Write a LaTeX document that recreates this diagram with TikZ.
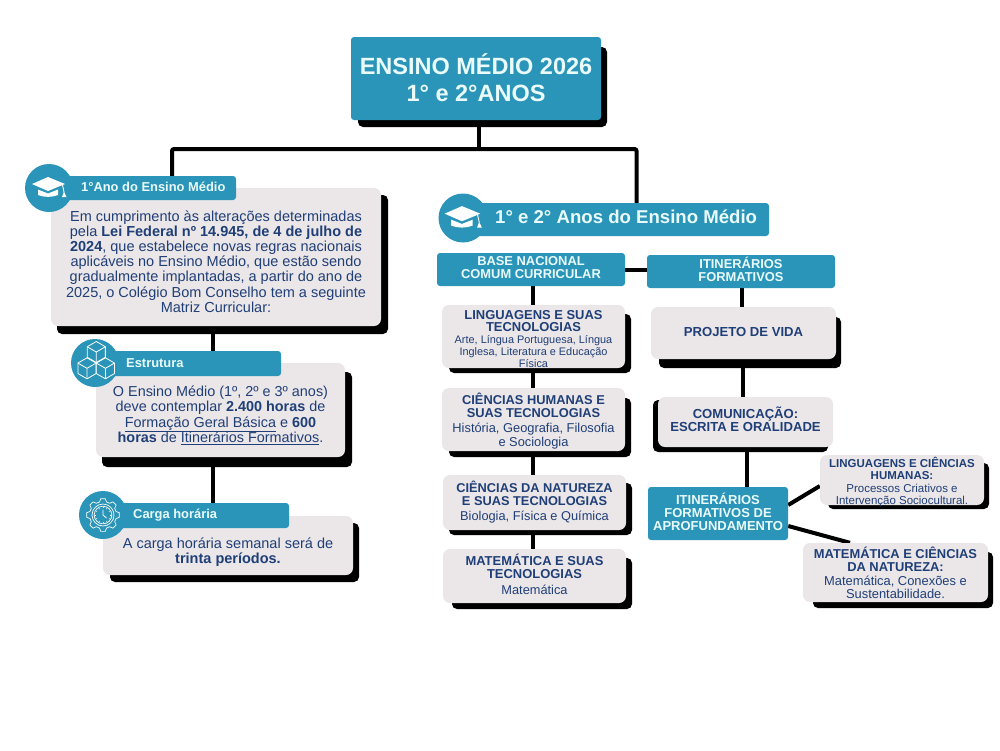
\documentclass[tikz,border=0pt]{standalone}
\usepackage{fontspec}
\setmainfont{Liberation Sans}
\usetikzlibrary{backgrounds}
\definecolor{teal1}{HTML}{2A95B8}
\definecolor{cardc}{HTML}{EBE6E7}
\definecolor{ink}{HTML}{1F3F78}
\definecolor{pale}{HTML}{EAFBFB}
\tikzset{
 shadowcard/.style={fill=black,rounded corners=5pt,inner sep=0pt},
 card/.style={fill=cardc,rounded corners=7pt,inner sep=0pt,text=ink},
 bluecard/.style={fill=teal1,rounded corners=3pt,inner sep=0pt,text=pale},
 bartext/.style={text=pale,inner sep=0pt,anchor=west},
 conn/.style={draw=black,line width=4pt},
 iconline/.style={draw=white,line width=0.8pt,line join=round},
 iconc/.style={fill=teal1,circle,inner sep=0pt,minimum size=48pt},
}
\newcommand\rbox[7]{% name style x1 y1 x2 y2 text
 \pgfmathsetmacro\cxx{(#3+#5)/2}\pgfmathsetmacro\cyy{-(#4+#6)/2}%
 \pgfmathsetmacro\ww{#5-#3}\pgfmathsetmacro\hh{#6-#4}%
 \node[#2,minimum width=\ww pt,minimum height=\hh pt] (#1) at (\cxx,\cyy) {#7};}
\newcommand\sz[2]{\fontsize{#1}{#2}\selectfont}
\newcommand\txt[2]{\raisebox{\dimexpr #1pt-0.25em\relax}[0pt][0pt]{\begin{tabular}{@{}c@{}}#2\end{tabular}}}
\newcommand\ulin[1]{$\underline{\hbox{#1}}$}
\newcommand\capicon[3]{\begin{scope}[shift={(#1,-#2)},scale=#3]
 \fill[white] (-17,4)--(-1,11)--(16,4)--(-1,-3)--cycle;
 \fill[white] (-11,-1.5)--(-1,-5.5)--(9,-1.5)--(9,-7) .. controls (3,-9.5) and (-5,-9.5) .. (-11,-7)--cycle;
 \draw[white,line width=0.9pt] (13.5,3)--(15,-4);
 \fill[white] (15,-3.5)--(13,-9)--(17.5,-9)--cycle;
\end{scope}}
\newcommand\cubeic[3]{\begin{scope}[shift={(#1,#2)}]
 \draw[iconline] (30:#3)--(90:#3)--(150:#3)--(210:#3)--(270:#3)--(330:#3)--cycle;
 \draw[iconline] (30:#3)--(0,0)--(150:#3) (0,0)--(270:#3);
\end{scope}}
\begin{document}
\begin{tikzpicture}[x=1pt,y=1pt]
\useasboundingbox (0,0) rectangle (1000,-750);
% ---- title
\rbox{titleS}{shadowcard}{358}{47}{607}{127}{}
\rbox{title}{bluecard,font=\bfseries\sz{23.5}{27}}{351}{37}{601}{120}{\txt{-3}{ENSINO MÉDIO 2026\\1° e 2°ANOS}}
% ---- left column
\rbox{introS}{shadowcard}{57}{195}{388}{334}{}
\rbox{intro}{card,font=\sz{14.5}{15.2}}{51}{188}{381}{326}{\txt{-6.6}{Em cumprimento às alterações determinadas\\pela \textbf{Lei Federal nº 14.945, de 4 de julho de}\\\textbf{2024}, que estabelece novas regras nacionais\\aplicáveis no Ensino Médio, que estão sendo\\gradualmente implantadas, a partir do ano de\\2025, o Colégio Bom Conselho tem a seguinte\\Matriz Curricular:}}
\rbox{barA}{bluecard}{62}{176}{236}{200}{}
\node[iconc] (icA) at (49,-188) {};
\node[bartext,font=\bfseries\sz{12.9}{14}] (barAt) at (81,-187) {1°Ano do Ensino Médio};
\capicon{49}{188}{1}

\rbox{estS}{shadowcard}{102}{372}{352}{467}{}
\rbox{est}{card,font=\sz{14.4}{15.4}}{96}{363}{345}{457}{\txt{-6.5}{O Ensino Médio (1º, 2º e 3º anos)\\deve contemplar \textbf{2.400 horas} de\\\ulin{Formação Geral Básica} e \textbf{600}\\\textbf{horas} de \ulin{Itinerários Formativos}.}}
\rbox{barB}{bluecard}{85}{351}{281}{376}{}
\node[iconc] (icB) at (95,-363) {};
\node[bartext,font=\bfseries\sz{12.9}{14}] (barBt) at (126,-363) {Estrutura};
\begin{scope}[shift={(95,-363)}]
 \cubeic{1.3}{11}{10.5}\cubeic{-8}{-5.3}{10.5}\cubeic{10.4}{-5.3}{10.5}
\end{scope}

\rbox{cargaS}{shadowcard}{110}{523}{359}{582}{}
\rbox{carga}{card,font=\sz{14.5}{15}}{103}{516}{353}{575}{\txt{-7}{A carga horária semanal será de\\\textbf{trinta períodos.}}}
\rbox{barC}{bluecard}{92}{503}{289}{528}{}
\node[iconc] (icC) at (103,-515) {};
\node[bartext,font=\bfseries\sz{12.9}{14}] (barCt) at (133,-515) {Carga horária};
\begin{scope}[shift={(103,-515)}]
 \foreach \a in {0,45,...,315}{
  \draw[iconline,line width=0.7pt] (\a-15:13.5)--(\a-8:16.5)--(\a+8:16.5)--(\a+15:13.5) arc[start angle=\a+15,end angle=\a+30,radius=13.5];
 }
 \draw[iconline,line width=0.7pt] (0,0) circle[radius=11];
 \draw[iconline,line width=0.7pt] (0,0) circle[radius=8.8];
 \foreach \a in {0,30,...,330}{\draw[white,line width=0.5pt] (\a:6.8)--(\a:8);}
 \draw[white,line width=0.8pt] (0,5.5)--(0,0)--(3.5,-3);
\end{scope}

% ---- right header
\rbox{barD}{bluecard}{475}{203}{769}{236}{}
\node[iconc,minimum size=49pt] (icD) at (463,-218) {};
\node[bartext,font=\bfseries\sz{18.6}{20}] (barDt) at (495,-217) {1° e 2° Anos do Ensino Médio};
\capicon{463}{218}{1.08}

\rbox{bncc}{bluecard,font=\bfseries\sz{12.9}{13}}{437}{253}{625}{286}{\txt{0}{BASE NACIONAL\\COMUM CURRICULAR}}
\rbox{itin}{bluecard,font=\bfseries\sz{12.9}{13}}{647}{255}{835}{288}{\txt{0}{ITINERÁRIOS\\FORMATIVOS}}

% ---- middle column
\rbox{lingS}{shadowcard}{449}{314}{631}{373}{}
\rbox{ling}{card,font=\sz{10.9}{11.9}}{442}{305}{625}{368}{\txt{-4}{\sz{12.95}{11.9}\textbf{LINGUAGENS E SUAS}\\\sz{12.95}{11.9}\textbf{TECNOLOGIAS}\\Arte, Língua Portuguesa, Língua\\Inglesa, Literatura e Educação\\Física}}
\rbox{chS}{shadowcard}{449}{398}{631}{457}{}
\rbox{ch}{card,font=\sz{12.85}{13.6}}{442}{388}{625}{451}{\txt{-2}{\textbf{CIÊNCIAS HUMANAS E}\\\textbf{SUAS TECNOLOGIAS}\\[1.5pt]História, Geografia, Filosofia\\e Sociologia}}
\rbox{cnS}{shadowcard}{449}{483}{632}{535}{}
\rbox{cn}{card,font=\sz{12.8}{12.8}}{443}{475}{626}{530}{\txt{0}{\textbf{CIÊNCIAS DA NATUREZA}\\\textbf{E SUAS TECNOLOGIAS}\\[2pt]Biologia, Física e Química}}
\rbox{matS}{shadowcard}{452}{558}{632}{609}{}
\rbox{mat}{card,font=\sz{12.8}{12.6}}{443}{549}{626}{603}{\txt{0}{\sz{12.95}{12.6}\textbf{MATEMÁTICA E SUAS}\\\sz{12.95}{12.6}\textbf{TECNOLOGIAS}\\[3pt]Matemática}}

% ---- right column
\rbox{projS}{shadowcard}{659}{317}{841}{368}{}
\rbox{proj}{card,font=\bfseries\sz{13.1}{15}}{651}{307}{836}{359}{\txt{0}{PROJETO DE VIDA}}
\rbox{comS}{shadowcard}{653}{400}{828}{452}{}
\rbox{com}{card,font=\bfseries\sz{13.1}{13}}{658}{397}{833}{447}{\txt{1}{COMUNICAÇÃO:\\ESCRITA E ORALIDADE}}
\rbox{itfa}{bluecard,font=\bfseries\sz{13}{12.6}}{648}{487}{788}{540}{\txt{0}{ITINERÁRIOS\\FORMATIVOS DE\\APROFUNDAMENTO}}
\rbox{lchS}{shadowcard}{828}{463}{989}{509}{}
\rbox{lch}{card,font=\sz{11.5}{12}}{820}{455}{984}{505}{\txt{-2.5}{\sz{11.5}{11}\textbf{LINGUAGENS E CIÊNCIAS}\\\sz{11.5}{11}\textbf{HUMANAS:}\\[1pt]Processos Criativos e\\Intervenção Sociocultural.}}
\rbox{mcnS}{shadowcard}{813}{552}{993}{608}{}
\rbox{mcn}{card,font=\sz{12.9}{13.2}}{803}{543}{988}{602}{\txt{-2}{\textbf{MATEMÁTICA E CIÊNCIAS}\\\textbf{DA NATUREZA:}\\Matemática, Conexões e\\Sustentabilidade.}}

\coordinate (trunk) at (479,-149);
\begin{scope}[on background layer]
 \draw[conn] (479,0 |- titleS.south) -- (trunk);
 \draw[conn,rounded corners=2pt] (172,0 |- barA.north) -- (172,-149) -- (636.5,-149) -- (636.5,0 |- barD.north);
 \draw[conn] (213,0 |- intro.south) -- (213,0 |- barB.north);
 \draw[conn] (213,0 |- estS.south) -- (213,0 |- barC.north);
 \draw[conn] (bncc.east) -- (itin.west |- bncc.east);
 \draw[conn] (533,0 |- bncc.south) -- (533,0 |- ling.north);
 \draw[conn] (533,0 |- lingS.south) -- (533,0 |- ch.north);
 \draw[conn] (533,0 |- chS.south) -- (533,0 |- cn.north);
 \draw[conn] (533,0 |- cnS.south) -- (533,0 |- mat.north);
 \draw[conn] (742,0 |- itin.south) -- (742,0 |- proj.north);
 \draw[conn] (742.5,0 |- projS.south) -- (742.5,0 |- com.north);
 \draw[conn] (746.5,0 |- comS.south) -- (746.5,0 |- itfa.north);
 \draw[conn] (itfa.east |- 0,-505) -- (lch.west |- 0,-486);
 \draw[conn] (itfa.east |- 0,-526) -- (mcn.north -| 850,0);
\end{scope}
\end{tikzpicture}
\end{document}
